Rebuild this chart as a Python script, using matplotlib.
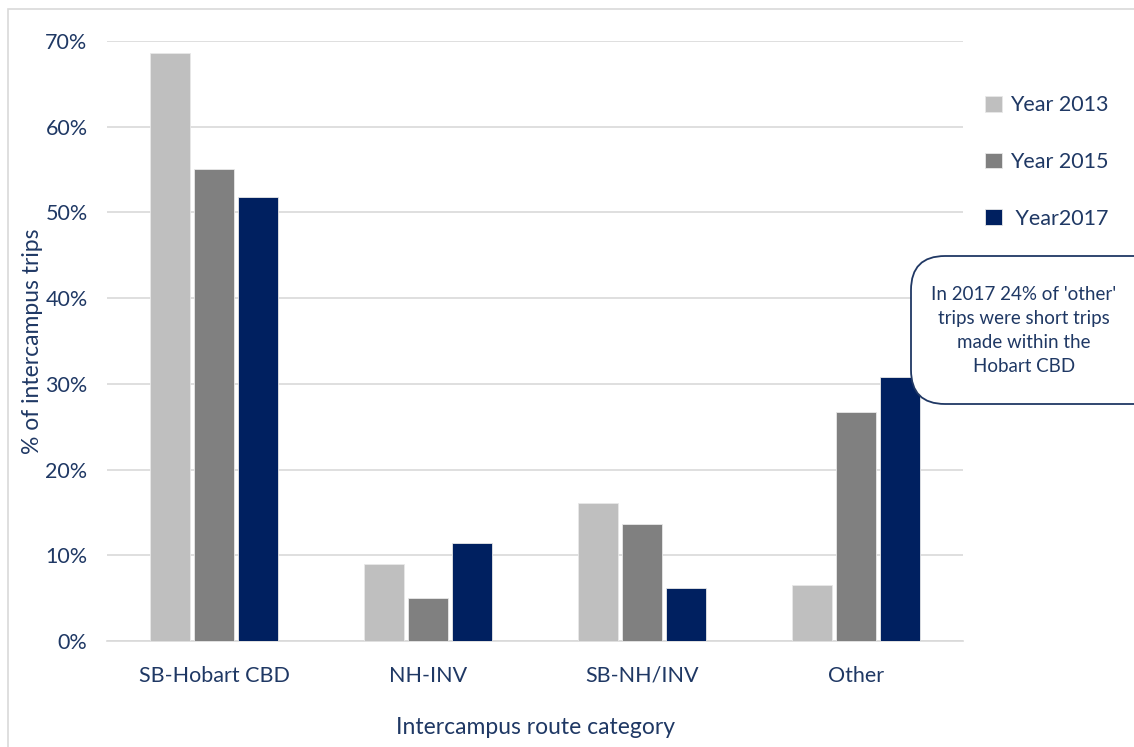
import matplotlib
matplotlib.use("Agg")
import matplotlib.pyplot as plt
import numpy as np
from matplotlib.patches import FancyBboxPatch, Rectangle
from matplotlib.ticker import PercentFormatter

plt.rcParams['font.family'] = ['Lato', 'DejaVu Sans']

categories = ["SB-Hobart CBD", "NH-INV", "SB-NH/INV", "Other"]
series_names = ["Year 2013", "Year 2015", " Year2017"]
year_2013 = [68.6, 9.0, 16.1, 6.5]
year_2015 = [55.1, 5.0, 13.6, 26.7]
year_2017 = [51.8, 11.4, 6.2, 30.8]
colors = ["#BFBFBF", "#808080", "#002060"]
yticks = [0, 10, 20, 30, 40, 50, 60, 70]
note = "In 2017 24% of 'other'\ntrips were short trips\nmade within the\nHobart CBD"

navy = "#1F3864"

fig = plt.figure(figsize=(11.34, 7.47), dpi=100)
W, H = 1134, 747
ax = fig.add_axes([107 / W, 1 - 641 / H, (963 - 107) / W, (641 - 41) / H])

x = np.arange(len(categories))
width = 0.19
step = 0.205
for i, (vals, name, c) in enumerate(zip([year_2013, year_2015, year_2017], series_names, colors)):
    ax.bar(x + (i - 1) * step, vals, width, color=c, label=name,
           edgecolor="#E8E8E8", linewidth=0.6, zorder=3)

ax.set_xlim(-0.5, 3.5)
ax.set_ylim(0, 70)
ax.set_yticks(yticks)
ax.yaxis.set_major_formatter(PercentFormatter(decimals=0))
ax.set_xticks(x)
ax.set_xticklabels(categories)
ax.tick_params(axis='both', length=0, labelsize=15.5, labelcolor=navy)
ax.tick_params(axis='x', pad=18)
ax.tick_params(axis='y', pad=14)
ax.grid(axis='y', color="#D9D9D9", linewidth=1.2, zorder=0)
for s in ["top", "right", "left"]:
    ax.spines[s].set_visible(False)
ax.spines["bottom"].set_color("#D9D9D9")
ax.spines["bottom"].set_linewidth(1.2)

ax.set_ylabel("% of intercampus trips", fontsize=16.5, color=navy, labelpad=2)
ax.set_xlabel("Intercampus route category", fontsize=16.5, color=navy, labelpad=22)

leg = fig.legend(loc="upper left", bbox_to_anchor=(966 / W, 1 - 76 / H), frameon=False,
                 fontsize=15.5, labelspacing=1.7, handlelength=0.75, handleheight=0.75,
                 handletextpad=0.4)
for t in leg.get_texts():
    t.set_color(navy)

# chart border
fig.patches.append(Rectangle((8 / W, -0.1), 1.2, 0.1 + 1 - 9 / H, transform=fig.transFigure,
                             fill=False, edgecolor="#D9D9D9", linewidth=1.2))

# callout box
fig.patches.append(FancyBboxPatch((911 / W, 1 - 404 / H), 260 / W, 148 / H,
                                  boxstyle="round,pad=0,rounding_size=0.03",
                                  transform=fig.transFigure, facecolor="white",
                                  edgecolor="#203864", linewidth=1.3, zorder=5,
                                  mutation_aspect=W / H))
fig.text(1024 / W, 1 - 331 / H, note, ha="center", va="center", fontsize=13.5,
         color=navy, linespacing=1.5, zorder=6)

fig.savefig("out.png", dpi=100)
